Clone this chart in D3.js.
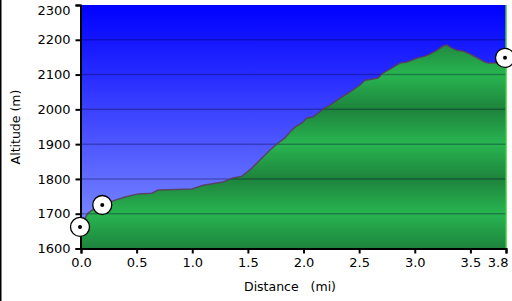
<!DOCTYPE html>
<html><head><meta charset="utf-8">
<script src="https://cdn.jsdelivr.net/npm/d3@7"></script>
<style>body{margin:0;background:#fff}svg{display:block}</style>
</head><body>
<script>
const distance = [0,0.063,0.126,0.198,0.306,0.396,0.512,0.638,0.692,0.998,1.097,1.276,1.366,1.447,1.519,1.636,1.699,1.771,1.834,1.878,1.923,1.986,2.031,2.085,2.130,2.193,2.238,2.328,2.418,2.508,2.553,2.625,2.669,2.714,2.795,2.867,2.930,3.020,3.092,3.137,3.200,3.254,3.290,3.335,3.379,3.433,3.496,3.568,3.631,3.658,3.82];
const altitude = [1668,1702,1716,1725,1739,1748,1757,1759,1768,1771,1782,1791,1803,1808,1826,1863,1883,1903,1918,1935,1949,1961,1975,1978,1989,2004,2012,2032,2050,2070,2084,2087,2090,2104,2119,2133,2136,2147,2153,2159,2170,2182,2185,2176,2170,2168,2159,2147,2136,2133,2133];
const markerDist = [0, 0.2, 3.82];
const markerAlt = [1662, 1725, 2148];
const yTicks = [1600,1700,1800,1900,2000,2100,2200,2300];
const xTicks = [0,0.5,1.0,1.5,2.0,2.5,3.0,3.5,3.82];
const xTickLabels = ["0.0","0.5","1.0","1.5","2.0","2.5","3.0","3.5","3.8"];

const W=512,H=301;
const FONT="DejaVu Sans, Verdana, sans-serif";
const svg=d3.select("body").append("svg").attr("width",W).attr("height",H);
const x=d3.scaleLinear().domain([0,3.82]).range([81,506]);
const y=d3.scaleLinear().domain([1600,2300]).range([248.5,5]);

const defs=svg.append("defs");
const bg=defs.append("linearGradient").attr("id","bg").attr("x1",0).attr("x2",0).attr("y1",0).attr("y2",1);
bg.append("stop").attr("offset","0").attr("stop-color","#0000ff");
bg.append("stop").attr("offset","1").attr("stop-color","#8898ff");
const gg=defs.append("linearGradient").attr("id","gg").attr("gradientUnits","userSpaceOnUse")
  .attr("x1",0).attr("x2",0).attr("y1",y(1800)).attr("y2",y(1600)).attr("spreadMethod","repeat");
gg.append("stop").attr("offset","0").attr("stop-color","#1e833c");
gg.append("stop").attr("offset","0.5").attr("stop-color","#28b551");
gg.append("stop").attr("offset","1").attr("stop-color","#1e833c");

svg.append("rect").attr("x",0).attr("y",0).attr("width",1.5).attr("height",H).attr("fill","#000");

svg.append("rect").attr("x",x(0)).attr("y",y(2300)).attr("width",x(3.82)-x(0)).attr("height",y(1600)-y(2300)).attr("fill","url(#bg)");

const pts=distance.map((d,i)=>[d,altitude[i]]);
const area=d3.area().x(d=>x(d[0])).y0(y(1600)).y1(d=>y(d[1]));
svg.append("path").datum(pts).attr("d",area).attr("fill","url(#gg)");

svg.append("g").selectAll("line").data(yTicks.slice(1,-1)).join("line")
  .attr("x1",x(0)).attr("x2",x(3.82)).attr("y1",d=>y(d)).attr("y2",d=>y(d))
  .attr("stroke","rgba(0,0,50,0.3)").attr("stroke-width",1.5);

const line=d3.line().x(d=>x(d[0])).y(d=>y(d[1]));
svg.append("path").datum(pts).attr("d",line).attr("fill","none").attr("stroke","rgba(90,60,90,0.85)").attr("stroke-width",1.5);

svg.append("line").attr("x1",x(3.82)).attr("x2",x(3.82)).attr("y1",y(2300)).attr("y2",y(1600)).attr("stroke","#3ccc3c").attr("stroke-width",1.5);

const yAxis=d3.axisLeft(y).tickValues(yTicks).tickSize(5).tickPadding(5).tickFormat(d3.format("d"));
const gy=svg.append("g").attr("transform",`translate(${x(0)-0.5},0)`).call(yAxis);
const xAxis=d3.axisBottom(x).tickValues(xTicks).tickSize(5).tickPadding(4).tickFormat((d,i)=>xTickLabels[i]);
const gx=svg.append("g").attr("transform",`translate(0,${y(1600)})`).call(xAxis);
[gx,gy].forEach(g=>{
  g.select(".domain").attr("stroke","#000").attr("stroke-width",2);
  g.selectAll(".tick line").attr("stroke","#000").attr("stroke-width",2);
  g.selectAll("text").attr("fill","#000").style("font-family",FONT).style("font-size","13px");
});
gx.selectAll(".tick").filter((d,i)=>i===xTicks.length-1).select("text").attr("text-anchor","end").attr("x",2);
gy.selectAll(".tick").filter(d=>d===2300).select("text").attr("y",5);

const mk=svg.append("g").selectAll("g").data(markerDist.map((d,i)=>[d,markerAlt[i]])).join("g")
  .attr("transform",d=>`translate(${x(d[0])-1},${y(d[1])})`);
mk.append("circle").attr("r",9.5).attr("fill","#fff").attr("stroke","#000").attr("stroke-width",1.3);
mk.append("circle").attr("r",2).attr("fill","#000");

svg.append("text").attr("transform","translate(20,127) rotate(-90)").attr("text-anchor","middle")
  .style("font-family",FONT).style("font-size","12.5px").text("Altitude (m)");
svg.append("text").attr("x",290).attr("y",291).attr("text-anchor","middle").attr("xml:space","preserve").style("white-space","pre")
  .style("font-family",FONT).style("font-size","12.5px").text("Distance   (mi)");
</script>
</body></html>
